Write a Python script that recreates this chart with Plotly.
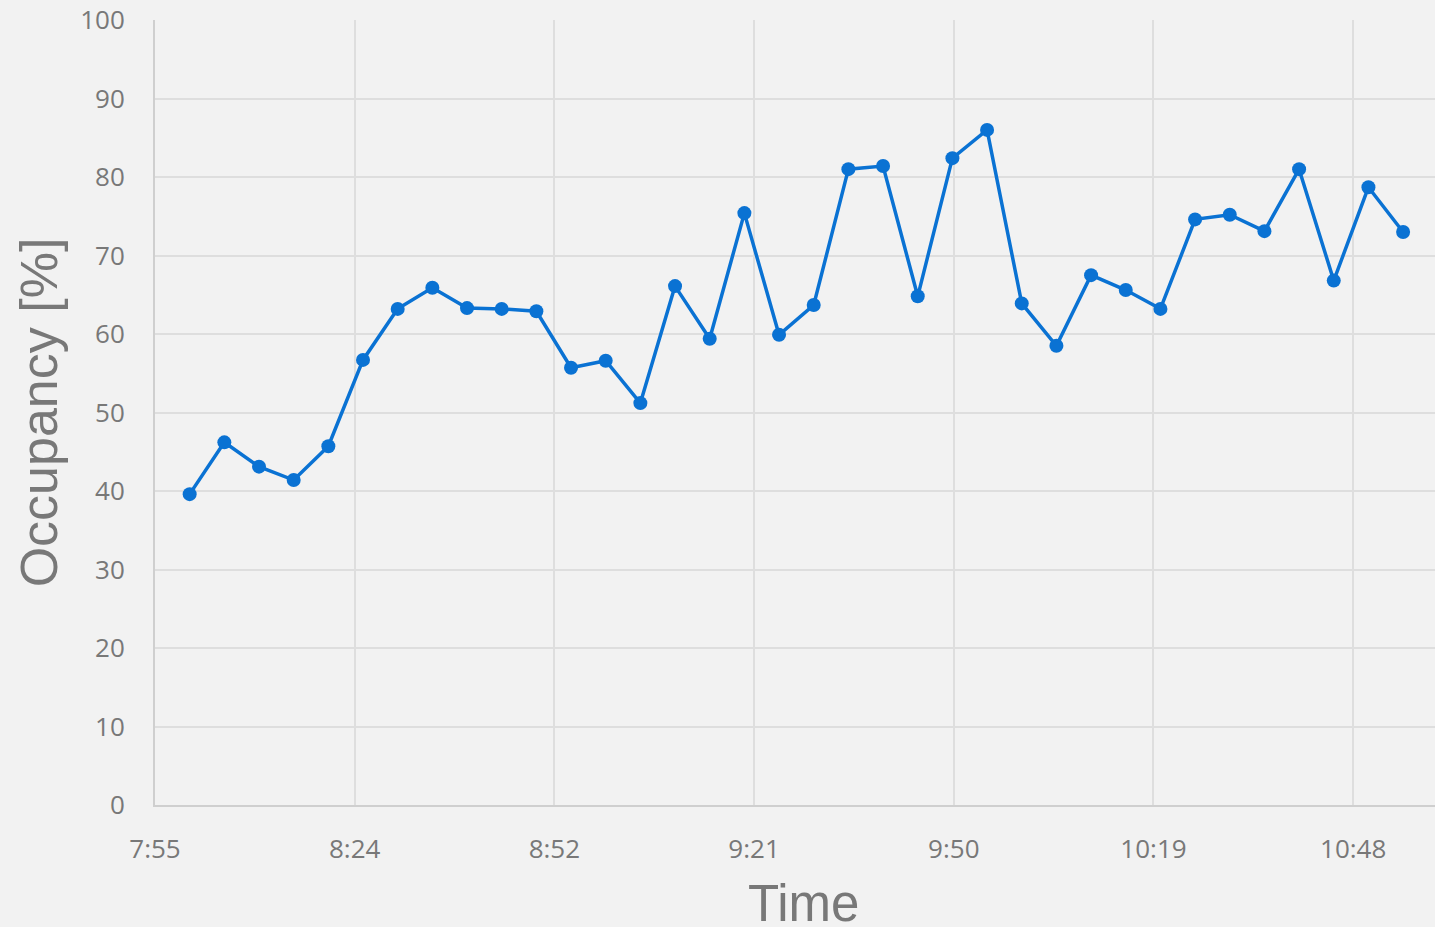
import plotly.graph_objects as go

times = ["8:00", "8:05", "8:10", "8:15", "8:20", "8:25", "8:30", "8:35", "8:40", "8:45",
         "8:50", "8:55", "9:00", "9:05", "9:10", "9:15", "9:20", "9:25", "9:30", "9:35",
         "9:40", "9:45", "9:50", "9:55", "10:00", "10:05", "10:10", "10:15", "10:20", "10:25",
         "10:30", "10:35", "10:40", "10:45", "10:50", "10:55"]
occupancy = [39.6, 46.2, 43.1, 41.4, 45.7, 56.7, 63.2, 65.9, 63.3, 63.2,
             62.9, 55.7, 56.6, 51.2, 66.1, 59.4, 75.4, 59.9, 63.7, 81.0,
             81.4, 64.8, 82.4, 86.0, 63.9, 58.5, 67.5, 65.6, 63.2, 74.6,
             75.2, 73.1, 81.0, 66.8, 78.7, 73.0]
tick_times = ["07:55:00", "08:23:48", "08:52:36", "09:21:24", "09:50:12", "10:19:00", "10:47:48"]
tick_labels = ["7:55", "8:24", "8:52", "9:21", "9:50", "10:19", "10:48"]
y_ticks = [0, 10, 20, 30, 40, 50, 60, 70, 80, 90, 100]

day = "2020-01-01 "
def to_dt(t):
    parts = t.split(":")
    if len(parts) == 2:
        parts.append("00")
    return day + ":".join(p.zfill(2) for p in parts)

x = [to_dt(t) for t in times]
tv = [to_dt(t) for t in tick_times]

blue = "#0A72D3"
grey_text = "#787878"

fig = go.Figure()
fig.add_trace(go.Scatter(
    x=x, y=occupancy, mode="lines+markers",
    line=dict(color=blue, width=3.5),
    marker=dict(color=blue, size=14),
    showlegend=False,
))

fig.update_layout(
    width=1435, height=927,
    paper_bgcolor="#F2F2F2", plot_bgcolor="#F2F2F2",
    margin=dict(l=155, r=0, t=20, b=122),
    font=dict(family="Open Sans, Noto Sans, sans-serif", color=grey_text),
)
fig.update_xaxes(
    type="date",
    range=[to_dt("07:55:00"), to_dt("10:59:36")],
    tickvals=tv, ticktext=tick_labels,
    tickfont=dict(size=26, color=grey_text),
    showgrid=True, gridcolor="#DEDEDE", gridwidth=1.5,
    showline=True, linecolor="#CFCFCF", linewidth=2,
    ticks="", ticklabelstandoff=20,
    zeroline=False,
)
fig.update_yaxes(
    range=[0, 100], tickvals=y_ticks,
    tickfont=dict(size=26, color=grey_text),
    showgrid=True, gridcolor="#DEDEDE", gridwidth=1.5,
    showline=True, linecolor="#CFCFCF", linewidth=2,
    ticks="", ticklabelstandoff=23,
    zeroline=False,
    title=dict(text="Occupancy [%]", font=dict(family="Liberation Sans, Arial, sans-serif", size=52, color=grey_text), standoff=6),
)
fig.add_annotation(
    text="Time", xref="paper", yref="paper", x=0.507, y=-0.1255,
    xanchor="center", yanchor="middle", showarrow=False,
    font=dict(family="Liberation Sans, Arial, sans-serif", size=51, color=grey_text),
)

fig.write_html("out.html", config={"displayModeBar": False},
               post_script="document.body.style.margin='0';")
